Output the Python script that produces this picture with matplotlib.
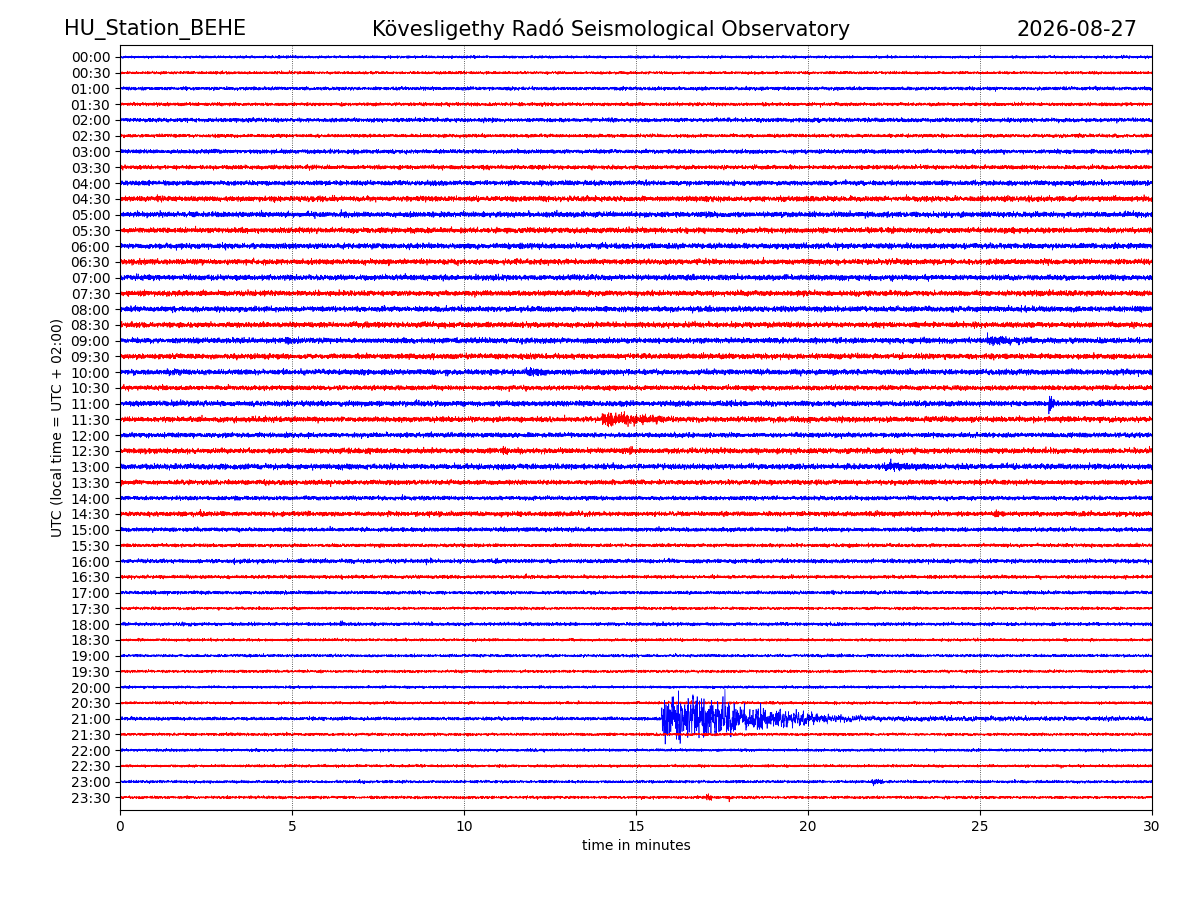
import numpy as np
import matplotlib
matplotlib.use("Agg")
import matplotlib.pyplot as plt

# station / title text
station = "HU_Station_BEHE"
observatory = "Kövesligethy Radó Seismological Observatory"
day = "2026-08-27"

# one trace per half hour, labels top to bottom
labels = ["%02d:%02d" % (h, m) for h in range(24) for m in (0, 30)]

# background noise level of each trace, peak-to-peak in pixels
noise_pp = [2, 2, 2.5, 2.5, 3, 2.5, 3, 3, 3.5, 4,
            4, 4, 4, 4, 4, 4, 4, 4, 4, 4,
            4, 3.5, 4, 4, 3.5, 4, 4, 3.5, 3, 3.5,
            3, 2.5, 3, 2.5, 2.5, 2, 2.5, 2, 2, 2,
            2, 2, 2.5, 2, 2, 2, 2, 2]

# small events: trace index, start minute, duration (min), peak amplitude (px)
ev_trace = [8, 13, 18, 18, 20, 22, 23, 25, 25, 26, 29, 29, 32, 32, 36, 46, 47, 47]
ev_start = [17.8, 7.7, 25.2, 4.8, 11.8, 27.0, 14.0, 11.1, 14.8, 22.2, 2.3, 25.4, 8.9, 10.9, 6.4, 21.85, 17.05, 17.7]
ev_dur = [0.1, 0.2, 1.2, 0.4, 0.6, 0.15, 1.8, 0.3, 0.2, 1.4, 0.3, 0.3, 0.2, 0.2, 0.4, 0.35, 0.15, 0.1]
ev_amp = [3, 3, 4.5, 3, 3.5, 10, 6, 4, 3, 3.5, 3, 3, 3, 2.5, 2, 4, 4, 2.5]

# the big earthquake on the 21:00 trace: envelope (minute, half amplitude px)
eq_trace = 42
eq_t = [15.75, 16.3, 17.0, 17.7, 17.9, 18.6, 19.4, 20.2, 21.0, 22.0, 25.0, 30.0]
eq_a = [26, 24, 20, 20, 13, 12, 8, 5, 3, 2, 1.5, 1.2]

px_per_line = 15.74
n = 9000
t = np.linspace(0, 30, n)
rng = np.random.default_rng(7)

fig = plt.figure(figsize=(12, 9), dpi=100)
ax = fig.add_axes([0.1, 0.1, 0.86, 0.85])

for i, lab in enumerate(labels):
    color = "blue" if i % 2 == 0 else "red"
    sig = rng.standard_normal(n) * noise_pp[i] / 3.6
    for k in range(len(ev_trace)):
        if ev_trace[k] != i:
            continue
        s, d = ev_start[k], ev_dur[k]
        env = np.where((t >= s) & (t <= s + d), 1.0, 0.0)
        env *= np.exp(-np.clip(t - s, 0, None) / max(d, 0.05) * 1.0)
        sig += rng.standard_normal(n) * env * ev_amp[k] / 2.0
    if i == eq_trace:
        env = np.interp(t, eq_t, eq_a) * (t >= eq_t[0])
        slow = np.convolve(rng.standard_normal(n), np.ones(4) / 2.0, mode="same")
        sig += slow * env / 2.2
    ax.plot(t, -i + sig / px_per_line, color=color, lw=0.5)

ax.set_xlim(0, 30)
ax.set_ylim(-47.8, 0.76)
ax.set_yticks(-np.arange(len(labels)))
ax.set_yticklabels(labels)
ax.set_xticks(range(0, 31, 5))
for x in range(5, 30, 5):
    ax.axvline(x, color="k", ls=":", lw=0.6, alpha=0.8)
ax.set_xlabel("time in minutes")
ax.set_ylabel("UTC (local time = UTC + 02:00)")

fig.text(0.053, 0.967, station, fontsize=15, ha="left", va="center")
fig.text(0.509, 0.967, observatory, fontsize=15, ha="center", va="center")
fig.text(0.948, 0.967, day, fontsize=15, ha="right", va="center")

fig.savefig("out.png", dpi=100)
